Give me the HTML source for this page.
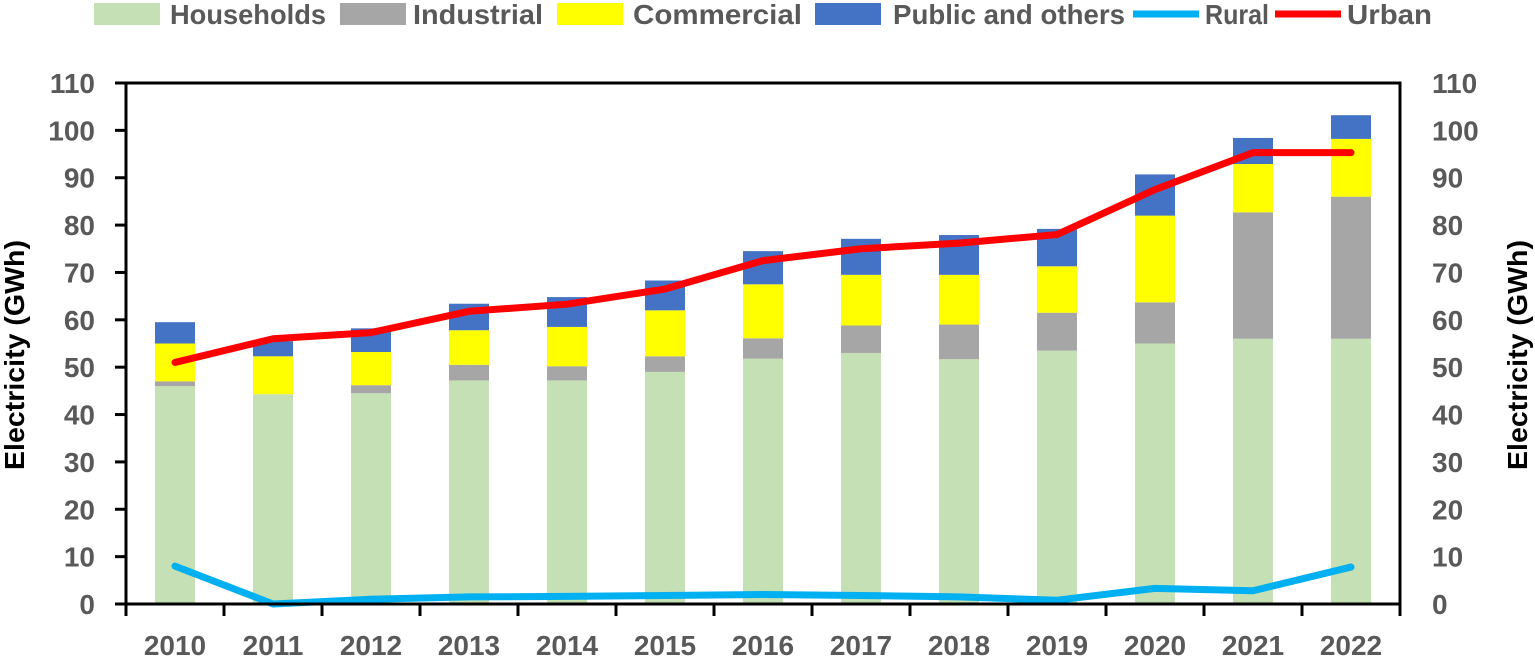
<!DOCTYPE html>
<html><head><meta charset="utf-8"><style>
body{margin:0;background:#fff;width:1535px;height:657px;overflow:hidden;font-family:"Liberation Sans",sans-serif}
</style></head><body>
<svg id="chart" width="1535" height="657" xmlns="http://www.w3.org/2000/svg"></svg>
<script>
const years=["2010","2011","2012","2013","2014","2015","2016","2017","2018","2019","2020","2021","2022"];
const households=[46,44.3,44.5,47.2,47.2,49,51.8,53,51.7,53.5,55,56,56];
const industrial=[1,0,1.7,3.3,3,3.3,4.3,5.8,7.3,8,8.7,26.7,30];
const commercial=[8,8,7,7.3,8.3,9.7,11.4,10.7,10.5,9.8,18.3,10.2,12.2];
const publicOthers=[4.5,3.2,5,5.6,6.3,6.3,7,7.6,8.4,7.9,8.7,5.5,5];
const rural=[8,0,1,1.5,1.6,1.8,2,1.8,1.5,0.8,3.3,2.8,7.8];
const urban=[51,56,57.3,61.8,63.3,66.5,72.5,75,76.2,78,87.5,95.3,95.3];
const yTicks=[0,10,20,30,40,50,60,70,80,90,100,110];

const svg=document.getElementById('chart');
const NS='http://www.w3.org/2000/svg';
const L=126,R=1400,T=83,B=604,YMAX=110;
const band=(R-L)/years.length;
const xc=i=>L+band*(i+0.5);
const y=v=>B-(v/YMAX)*(B-T);
function mk(tag,attrs,parent){const e=document.createElementNS(NS,tag);for(const k in attrs)e.setAttribute(k,attrs[k]);(parent||svg).appendChild(e);return e;}

const series=[[households,'#c5e0b4','households'],[industrial,'#a6a6a6','industrial'],[commercial,'#ffff00','commercial'],[publicOthers,'#4472c4','public-and-others']];
years.forEach((yr,i)=>{
  let base=0;
  series.forEach(([arr,col,nm])=>{
    const v=arr[i];
    const r=mk('rect',{x:xc(i)-20,y:y(base+v),width:40,height:y(base)-y(base+v),fill:col});
    
    
    base+=v;
  });
});
function line(arr,col,nm){
  const p=mk('polyline',{points:arr.map((v,i)=>xc(i)+','+y(v)).join(' '),fill:'none',stroke:col,'stroke-width':7,'stroke-linecap':'round','stroke-linejoin':'round'});
  
  
}
line(rural,'#00b0f0','rural');
line(urban,'#ff0000','urban');

const box=mk('rect',{x:L,y:T,width:R-L,height:B-T,fill:'none',stroke:'#000','stroke-width':3});


yTicks.forEach(t=>{
  mk('line',{x1:L-11,x2:L,y1:y(t),y2:y(t),stroke:'#000','stroke-width':3});
  const a=mk('text',{x:95,y:y(t)+10,'text-anchor':'end','font-size':28,'font-weight':'bold',fill:'#595959'});a.textContent=t;
  
  
  const b=mk('text',{x:1432,y:y(t)+10,'text-anchor':'start','font-size':28,'font-weight':'bold',fill:'#595959'});b.textContent=t;
  
  
});
for(let i=0;i<=years.length;i++)mk('line',{x1:L+band*i,x2:L+band*i,y1:B,y2:B+12,stroke:'#000','stroke-width':3});
years.forEach((yr,i)=>{
  const t=mk('text',{x:xc(i),y:655,'text-anchor':'middle','font-size':28,'font-weight':'bold',fill:'#595959'});t.textContent=yr;
  
  
});
const yl=mk('text',{transform:'translate(24,355) rotate(-90)','text-anchor':'middle','font-size':28,'font-weight':'bold',fill:'#000',textLength:230,lengthAdjust:'spacingAndGlyphs'});yl.textContent='Electricity (GWh)';


const yr2=mk('text',{transform:'translate(1527,355) rotate(-90)','text-anchor':'middle','font-size':28,'font-weight':'bold',fill:'#000',textLength:230,lengthAdjust:'spacingAndGlyphs'});yr2.textContent='Electricity (GWh)';



const leg=[['Households','#c5e0b4',94,170,156,'box'],['Industrial','#a6a6a6',340,413,130,'box'],['Commercial','#ffff00',557,633,169,'box'],['Public and others','#4472c4',815,893,232,'box'],['Rural','#00b0f0',1133,1205,64,'line'],['Urban','#ff0000',1275,1347,85,'line']];
leg.forEach(([lab,col,x,tx,tw,kind])=>{
  const g=mk('g',{});
  
  
  if(kind==='box')mk('rect',{x:x,y:3,width:66,height:22,fill:col},g);
  else mk('line',{x1:x,x2:x+66,y1:14,y2:14,stroke:col,'stroke-width':7},g);
  const t=mk('text',{x:tx,y:24,'font-size':28,'font-weight':'bold',fill:'#595959',textLength:tw,lengthAdjust:'spacingAndGlyphs'},g);t.textContent=lab;
});
</script>
</body></html>
